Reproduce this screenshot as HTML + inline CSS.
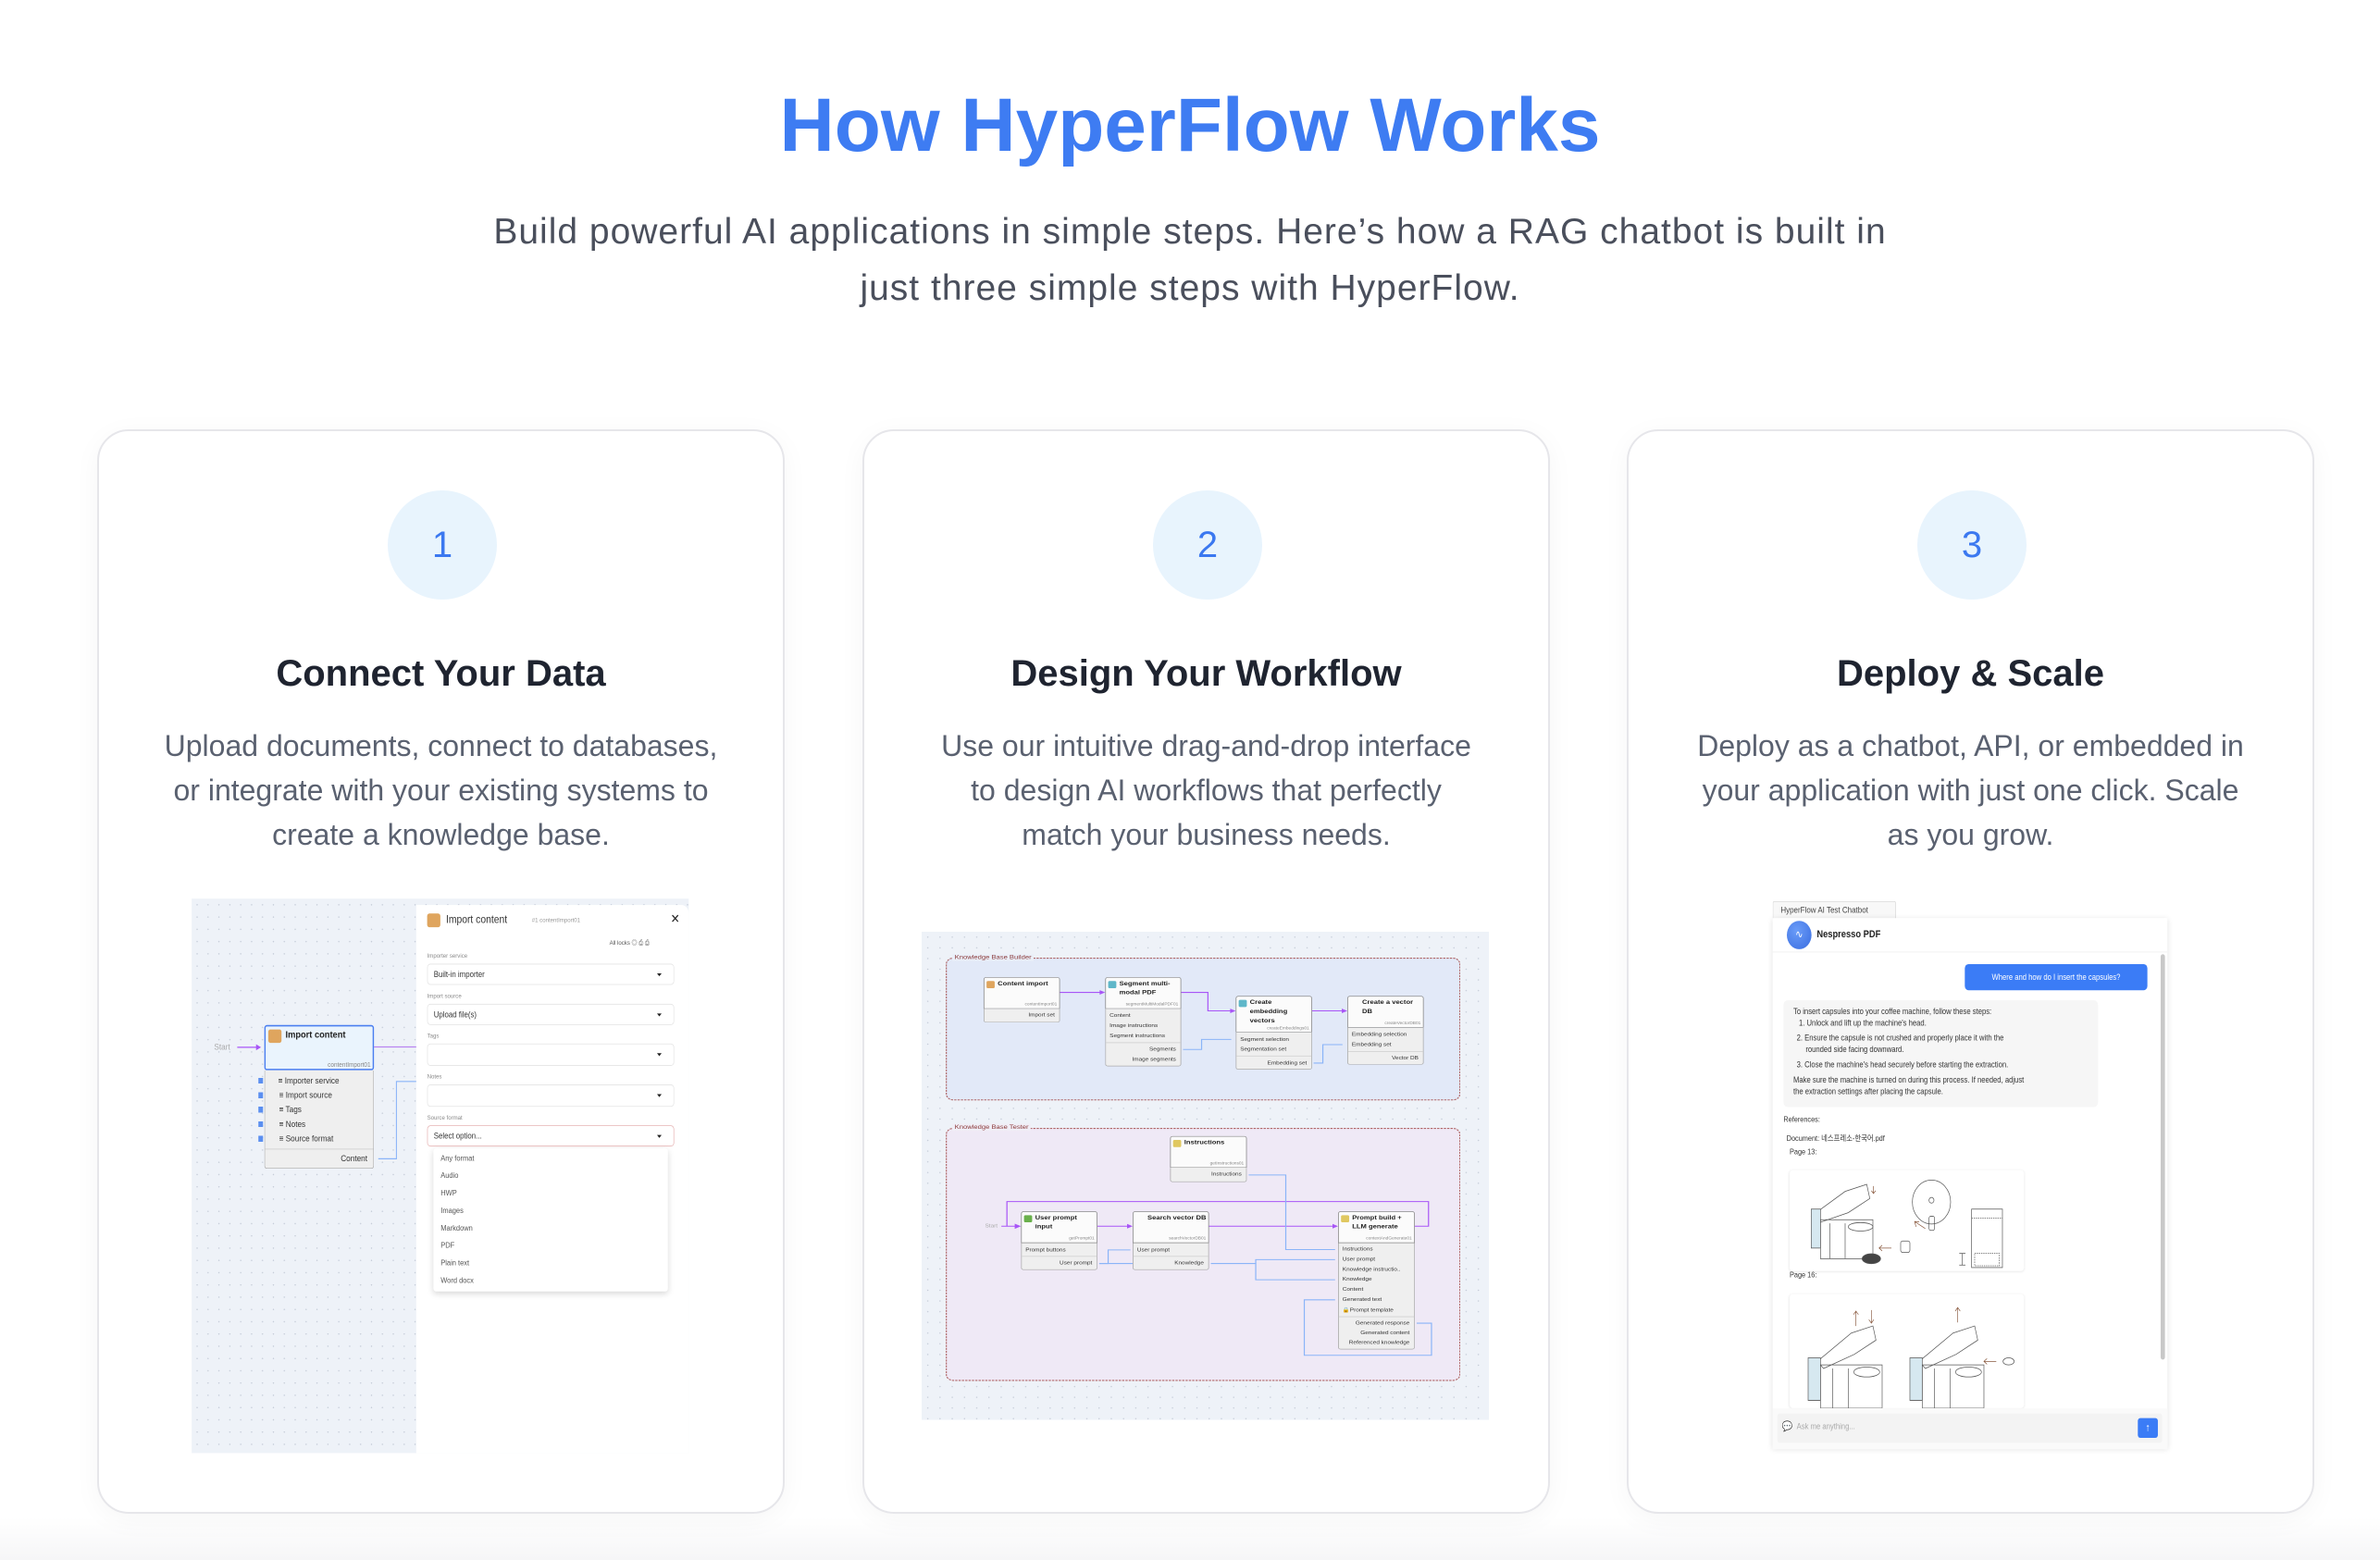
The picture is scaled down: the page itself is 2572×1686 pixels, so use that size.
<!DOCTYPE html>
<html><head><meta charset="utf-8">
<style>
*{box-sizing:border-box;margin:0;padding:0}
body{width:2572px;height:1686px;position:relative;overflow:hidden;font-family:"Liberation Sans","Noto Sans CJK KR",sans-serif;background:linear-gradient(#fff 0,#fff 1640px,#f6f6f7 1686px)}
.abs{position:absolute}
h1{position:absolute;left:0;width:2572px;top:88px;text-align:center;font-size:82px;font-weight:bold;color:#3e7cf2;line-height:96px}
.sub{position:absolute;left:0;width:2572px;text-align:center;font-size:39px;letter-spacing:1px;color:#4a4f5c;line-height:40px}
.card{position:absolute;top:464px;width:743px;height:1172px;border:2px solid #e6e6ea;border-radius:34px;background:#fff;box-shadow:0 6px 30px rgba(0,0,0,0.04)}
.circ{position:absolute;left:312px;top:64px;width:118px;height:118px;border-radius:50%;background:#e8f4fd;color:#3b78f0;font-size:40px;text-align:center;line-height:118px}
.ch{position:absolute;left:0;width:100%;top:240px;text-align:center;font-size:40px;font-weight:bold;color:#1f2430}
.cd{position:absolute;left:0;width:100%;top:316px;text-align:center;font-size:32px;line-height:48px;color:#5a6170}
.z{position:absolute;transform-origin:0 0;overflow:visible}
.dots{background-color:#eef2f8;background-image:radial-gradient(#c5ccd8 2px,transparent 2.2px);background-size:33px 33px}
.lbl{position:absolute;font-size:17px;color:#8a8a8a}
.sel{position:absolute;left:733px;width:748px;height:57px;border:2px solid #e4e4e4;border-radius:10px;font-size:22px;color:#333;padding:14px 18px;background:#fff}
.sel:after{content:"";position:absolute;right:36px;top:24px;border:7px solid transparent;border-top:8px solid #222}
.dd{position:absolute;left:40px;font-size:21px;color:#555}
.nh{position:absolute;background:#fbfbfb;border:2px solid #8a8a8a;border-radius:7px 7px 0 0}
.nb{position:absolute;background:#efefef;border:2px solid #a8a8a8;border-top:none;border-radius:0 0 7px 7px}
.nt{position:absolute;font-size:19px;color:#222;line-height:28px;font-weight:bold}
.nid{position:absolute;right:6px;font-size:12px;color:#888}
.ic{position:absolute;width:22px;height:22px;border-radius:4px}
.r{position:absolute;font-size:16px;color:#333;white-space:nowrap}
.rr{position:absolute;right:12px;font-size:16px;color:#333;white-space:nowrap}
.dv{position:absolute;left:0;right:0;height:2px;background:#ccc}
.ct{position:absolute;font-size:23px;color:#333;white-space:nowrap}
</style></head><body>

<h1>How HyperFlow Works</h1>
<div class="sub" style="top:231px">Build powerful AI applications in simple steps. Here’s how a RAG chatbot is built in</div>
<div class="sub" style="top:292px">just three simple steps with HyperFlow.</div>

<div class="card" style="left:105px"><div class="circ">1</div><div class="ch">Connect Your Data</div><div class="cd">Upload documents, connect to databases,<br>or integrate with your existing systems to<br>create a knowledge base.</div></div>
<div class="card" style="left:932px"><div class="circ">2</div><div class="ch">Design Your Workflow</div><div class="cd">Use our intuitive drag-and-drop interface<br>to design AI workflows that perfectly<br>match your business needs.</div></div>
<div class="card" style="left:1758px"><div class="circ">3</div><div class="ch">Deploy &amp; Scale</div><div class="cd">Deploy as a chatbot, API, or embedded in<br>your application with just one click. Scale<br>as you grow.</div></div>

<!-- Card 1 screenshot -->
<div class="z" style="left:200px;top:960px;width:1545px;height:1545px;transform:scale(0.3569,0.4016)">
 <div class="abs dots" style="left:20px;top:28px;width:1505px;height:1492px"></div>
 <div class="abs" style="left:700px;top:45px;width:825px;height:1475px;background:#fff;border-radius:0 22px 0 0"></div>
 <div class="abs" style="left:733px;top:68px;width:40px;height:37px;background:#dfa55e;border-radius:7px"></div>
 <div class="abs" style="left:790px;top:68px;font-size:29px;color:#333">Import content</div>
 <div class="abs" style="left:1050px;top:76px;font-size:17px;color:#999">#1 contentImport01</div>
 <div class="abs" style="left:1470px;top:62px;font-size:34px;color:#222">✕</div>
 <div class="abs" style="left:1285px;top:132px;font-size:17px;color:#555">All locks ◎ ⎙ ⎙</div>
 <div class="lbl" style="left:733px;top:172px">Importer service</div>
 <div class="sel" style="top:203px">Built-in importer</div>
 <div class="lbl" style="left:733px;top:280px">Import source</div>
 <div class="sel" style="top:311px">Upload file(s)</div>
 <div class="lbl" style="left:733px;top:387px">Tags</div>
 <div class="sel" style="top:418px;height:60px"></div>
 <div class="lbl" style="left:733px;top:497px">Notes</div>
 <div class="sel" style="top:528px;height:60px"></div>
 <div class="lbl" style="left:733px;top:607px">Source format</div>
 <div class="sel" style="top:638px;border-color:#e6b3b3">Select option...</div>
 <div class="abs" style="left:752px;top:700px;width:710px;height:385px;background:#fff;border-radius:8px;box-shadow:0 6px 18px rgba(0,0,0,0.15)">
  <div class="dd" style="left:22px;top:15px">Any format</div><div class="dd" style="left:22px;top:62px">Audio</div>
  <div class="dd" style="left:22px;top:109px">HWP</div><div class="dd" style="left:22px;top:156px">Images</div>
  <div class="dd" style="left:22px;top:203px">Markdown</div><div class="dd" style="left:22px;top:250px">PDF</div>
  <div class="dd" style="left:22px;top:297px">Plain text</div><div class="dd" style="left:22px;top:344px">Word docx</div>
 </div>
 <svg class="abs" style="left:0;top:0" width="1545" height="1545">
  <line x1="158" y1="428" x2="225" y2="428" stroke="#a855f7" stroke-width="3"/>
  <polygon points="215,420 230,428 215,436" fill="#a855f7"/>
  <line x1="572" y1="427" x2="700" y2="427" stroke="#b884f0" stroke-width="3"/>
  <path d="M585 728 H640 V520 H700" fill="none" stroke="#8ab4f8" stroke-width="3"/>
 </svg>
 <div class="abs" style="left:88px;top:414px;font-size:23px;color:#aaa">Start</div>
 <div class="abs" style="left:240px;top:368px;width:332px;height:122px;border:4px solid #4a7ef0;border-radius:8px;background:#eaf4fd">
  <div class="abs" style="left:8px;top:8px;width:40px;height:36px;background:#dfa55e;border-radius:6px"></div>
  <div class="abs" style="left:60px;top:6px;font-size:26px;color:#222;font-weight:bold">Import content</div>
  <div class="abs" style="right:6px;top:92px;font-size:18px;color:#888">contentImport01</div>
 </div>
 <div class="abs" style="left:240px;top:490px;width:332px;height:265px;background:#efefef;border:2px solid #aaa;border-top:none;border-radius:0 0 8px 8px">
  <div class="abs" style="left:40px;top:14px;font-size:23px;color:#333">≡ Importer service</div>
  <div class="abs" style="left:30px;top:53px;font-size:23px;color:#333">&nbsp; ≡ Import source</div>
  <div class="abs" style="left:30px;top:92px;font-size:23px;color:#333">&nbsp; ≡ Tags</div>
  <div class="abs" style="left:30px;top:131px;font-size:23px;color:#333">&nbsp; ≡ Notes</div>
  <div class="abs" style="left:30px;top:170px;font-size:23px;color:#333">&nbsp; ≡ Source format</div>
  <div class="dv" style="top:211px"></div>
  <div class="abs" style="right:18px;top:224px;font-size:23px;color:#333">Content</div>
 </div>
 <div class="abs" style="left:222px;top:510px;width:14px;height:180px;background:repeating-linear-gradient(#5b8ff0 0 16px,transparent 16px 39px)"></div>
</div>

<!-- Card 2 screenshot -->
<div class="z" style="left:990px;top:1000px;width:1560px;height:1540px;transform:scale(0.4007,0.3505)">
 <div class="abs dots" style="left:15px;top:20px;width:1530px;height:1505px"></div>
 <div class="abs" style="left:80px;top:100px;width:1388px;height:440px;border:3px dashed #b06868;border-radius:20px;background:#e2e9f8"></div>
 <div class="abs" style="left:98px;top:88px;font-size:19px;color:#8b3a3a;background:#eaeff8;padding:0 6px">Knowledge Base Builder</div>
 <div class="abs" style="left:80px;top:625px;width:1388px;height:780px;border:3px dashed #b06868;border-radius:20px;background:#efe9f6"></div>
 <div class="abs" style="left:98px;top:612px;font-size:19px;color:#8b3a3a;background:#f0eef6;padding:0 6px">Knowledge Base Tester</div>

 <svg class="abs" style="left:0;top:0" width="1560" height="1540">
  <g fill="none" stroke="#a855f7" stroke-width="3">
   <path d="M388 207 H505"/><path d="M715 207 H787 V264 H857"/><path d="M1068 264 H1158"/>
   <path d="M230 928 H278"/><path d="M489 928 H579"/><path d="M790 928 H1133"/>
   <path d="M1345 928 H1382 V852 H245 V928"/>
  </g>
  <g fill="#a855f7">
   <polygon points="495,200 510,207 495,214"/><polygon points="847,257 862,264 847,271"/><polygon points="1148,257 1163,264 1148,271"/>
   <polygon points="266,920 283,928 266,936"/><polygon points="569,921 584,928 569,935"/><polygon points="1123,921 1138,928 1123,935"/>
  </g>
  <g fill="none" stroke="#8ab4f8" stroke-width="3">
   <path d="M720 383 H770 V352 H850"/><path d="M1072 425 H1097 V368 H1150"/>
   <path d="M897 770 H997 V1000 H1130"/><path d="M494 1043 H518 V1001 H578"/><path d="M494 1043 H584"/>
   <path d="M795 1043 H916 V1031 H1130"/><path d="M916 1043 V1093 H1130"/>
   <path d="M1350 1227 H1390 V1326 H1047 V1155 H1130"/>
  </g>
 </svg>
 <div class="abs" style="left:186px;top:918px;font-size:16px;color:#aaa">Start</div>

 <div class="nh" style="left:182px;top:160px;width:206px;height:98px"><div class="ic" style="left:6px;top:10px;background:#dfa55e"></div><div class="nt" style="left:36px;top:4px">Content import</div><div class="nid" style="top:74px">contentImport01</div></div>
 <div class="nb" style="left:182px;top:258px;width:206px;height:42px"><div class="rr" style="top:10px">Import set</div></div>
 <div class="nh" style="left:510px;top:160px;width:205px;height:98px"><div class="ic" style="left:6px;top:10px;background:#5fb7c9"></div><div class="nt" style="left:36px;top:4px">Segment multi-<br>modal PDF</div><div class="nid" style="top:74px">segmentMultiModalPDF01</div></div>
 <div class="nb" style="left:510px;top:258px;width:205px;height:177px"><div class="r" style="left:10px;top:12px">Content</div><div class="r" style="left:10px;top:43px">Image instructions</div><div class="r" style="left:10px;top:74px">Segment instructions</div><div class="dv" style="top:103px"></div><div class="rr" style="top:116px">Segments</div><div class="rr" style="top:147px">Image segments</div></div>
 <div class="nh" style="left:862px;top:218px;width:206px;height:112px"><div class="ic" style="left:6px;top:10px;background:#5fb7c9"></div><div class="nt" style="left:36px;top:4px">Create<br>embedding<br>vectors</div><div class="nid" style="top:90px">createEmbeddings01</div></div>
 <div class="nb" style="left:862px;top:330px;width:206px;height:115px"><div class="r" style="left:10px;top:13px">Segment selection</div><div class="r" style="left:10px;top:44px">Segmentation set</div><div class="dv" style="top:72px"></div><div class="rr" style="top:86px">Embedding set</div></div>
 <div class="nh" style="left:1163px;top:218px;width:206px;height:98px"><div class="nt" style="left:38px;top:4px">Create a vector<br>DB</div><div class="nid" style="top:74px">createVectorDB01</div></div>
 <div class="nb" style="left:1163px;top:316px;width:206px;height:114px"><div class="r" style="left:10px;top:12px">Embedding selection</div><div class="r" style="left:10px;top:43px">Embedding set</div><div class="dv" style="top:72px"></div><div class="rr" style="top:85px">Vector DB</div></div>
 <div class="nh" style="left:685px;top:650px;width:207px;height:98px"><div class="ic" style="left:6px;top:10px;background:#e0c860"></div><div class="nt" style="left:36px;top:4px">Instructions</div><div class="nid" style="top:74px">getInstructions01</div></div>
 <div class="nb" style="left:685px;top:748px;width:207px;height:44px"><div class="rr" style="top:11px">Instructions</div></div>
 <div class="nh" style="left:283px;top:882px;width:206px;height:98px"><div class="ic" style="left:6px;top:10px;background:#6ab04c"></div><div class="nt" style="left:36px;top:4px">User prompt<br>input</div><div class="nid" style="top:74px">getPrompt01</div></div>
 <div class="nb" style="left:283px;top:980px;width:206px;height:83px"><div class="r" style="left:10px;top:12px">Prompt buttons</div><div class="dv" style="top:40px"></div><div class="rr" style="top:53px">User prompt</div></div>
 <div class="nh" style="left:584px;top:882px;width:206px;height:98px"><div class="nt" style="left:38px;top:4px">Search vector DB</div><div class="nid" style="top:74px">searchVectorDB01</div></div>
 <div class="nb" style="left:584px;top:980px;width:206px;height:83px"><div class="r" style="left:10px;top:12px">User prompt</div><div class="dv" style="top:40px"></div><div class="rr" style="top:53px">Knowledge</div></div>
 <div class="nh" style="left:1138px;top:882px;width:207px;height:98px"><div class="ic" style="left:6px;top:10px;background:#e0c860"></div><div class="nt" style="left:36px;top:4px">Prompt build +<br>LLM generate</div><div class="nid" style="top:74px">contextAndGenerate01</div></div>
 <div class="nb" style="left:1138px;top:980px;width:207px;height:328px">
  <div class="r" style="left:10px;top:10px">Instructions</div><div class="r" style="left:10px;top:41px">User prompt</div><div class="r" style="left:10px;top:72px">Knowledge instructio..</div><div class="r" style="left:10px;top:103px">Knowledge</div><div class="r" style="left:10px;top:134px">Content</div><div class="r" style="left:10px;top:165px">Generated text</div><div class="r" style="left:10px;top:196px">🔒Prompt template</div>
  <div class="dv" style="top:226px"></div>
  <div class="rr" style="top:238px">Generated response</div><div class="rr" style="top:268px">Generated content</div><div class="rr" style="top:298px">Referenced knowledge</div>
 </div>
</div>

<!-- Card 3 screenshot -->
<div class="z" style="left:1900px;top:970px;width:1380px;height:1568px;transform:scale(0.3333,0.3827)">
 <div class="abs" style="left:47px;top:10px;width:400px;height:50px;border:2px solid #d6d6d6;border-bottom:none;border-radius:6px 6px 0 0;background:#f8f8f8;font-size:24px;color:#444;padding:10px 24px">HyperFlow AI Test Chatbot</div>
 <div class="abs" style="left:47px;top:58px;width:1280px;height:1500px;background:#fff;box-shadow:0 2px 16px rgba(0,0,0,0.12)">
  <div class="abs" style="left:0;top:0;width:1280px;height:97px;border-bottom:2px solid #eee"></div>
  <div class="abs" style="left:46px;top:8px;width:80px;height:80px;border-radius:50%;background:radial-gradient(circle at 40% 35%,#6a9cf8,#3a6de0);color:#fff;font-size:30px;text-align:center;line-height:78px">∿</div>
  <div class="abs" style="left:143px;top:30px;font-size:28px;font-weight:bold;color:#222">Nespresso PDF</div>
  <div class="abs" style="left:1258px;top:102px;width:14px;height:1145px;background:#c8c8c8;border-radius:7px"></div>
  <div class="abs" style="left:623px;top:130px;width:592px;height:74px;background:#3b7cf6;border-radius:12px;color:#fff;font-size:23px;text-align:center;line-height:74px">Where and how do I insert the capsules?</div>
  <div class="abs" style="left:35px;top:232px;width:1020px;height:302px;background:#f6f6f6;border-radius:14px"></div>
  <div class="ct" style="left:67px;top:250px">To insert capsules into your coffee machine, follow these steps:</div>
  <div class="ct" style="left:85px;top:283px">1. Unlock and lift up the machine's head.</div>
  <div class="ct" style="left:78px;top:325px">2. Ensure the capsule is not crushed and properly place it with the</div>
  <div class="ct" style="left:107px;top:358px">rounded side facing downward.</div>
  <div class="ct" style="left:78px;top:400px">3. Close the machine's head securely before starting the extraction.</div>
  <div class="ct" style="left:67px;top:443px">Make sure the machine is turned on during this process. If needed, adjust</div>
  <div class="ct" style="left:67px;top:476px">the extraction settings after placing the capsule.</div>
  <div class="ct" style="left:35px;top:556px;font-size:22px">References:</div>
  <div class="ct" style="left:45px;top:604px;font-size:22px">Document: 네스프레소-한국어.pdf</div>
  <div class="ct" style="left:55px;top:647px;font-size:22px">Page 13:</div>
  <div class="abs" style="left:55px;top:712px;width:760px;height:285px;background:#fff;border-radius:10px;box-shadow:0 1px 8px rgba(0,0,0,0.1)">
   <svg width="760" height="285" fill="none" stroke="#555" stroke-width="2">
    <path d="M70 130 L180 60 L250 40 L260 80 L190 120 L90 150 Z"/><path d="M70 110 H100 V220 H70 Z" fill="#d6e8f0"/>
    <path d="M100 140 H270 V250 H100 Z"/><path d="M130 150 V250 M180 150 V250"/><ellipse cx="230" cy="160" rx="40" ry="12"/>
    <ellipse cx="265" cy="250" rx="30" ry="14" fill="#444"/><path d="M330 220 H290 M300 212 L290 220 L300 228" stroke="#8a5a40"/>
    <rect x="360" y="200" width="30" height="32" rx="6"/><path d="M272 45 V65 M265 58 L272 66 L279 58" stroke="#8a5a40"/>
    <circle cx="460" cy="90" r="62"/><circle cx="460" cy="85" r="8"/><rect x="452" y="130" width="18" height="40" rx="6"/>
    <path d="M440 165 L405 145 M405 145 L410 160 M405 145 L420 146" stroke="#8a5a40"/>
    <rect x="590" y="110" width="100" height="165"/><path d="M590 135 H690 M600 235 H680 V270 H600 Z" stroke-dasharray="4 3"/>
    <path d="M560 235 V268 M550 235 H570 M550 268 H570"/>
   </svg>
  </div>
  <div class="ct" style="left:55px;top:995px;font-size:22px">Page 16:</div>
  <div class="abs" style="left:55px;top:1062px;width:760px;height:322px;background:#fff;border-radius:10px;box-shadow:0 1px 8px rgba(0,0,0,0.1)">
   <svg width="760" height="322" fill="none" stroke="#555" stroke-width="2">
    <path d="M90 190 L200 110 L270 90 L280 130 L210 170 L110 210 Z"/><path d="M60 180 H100 V300 H60 Z" fill="#d6e8f0"/>
    <path d="M100 200 H300 V322 H100 Z"/><path d="M140 210 V322 M190 210 V322"/><ellipse cx="250" cy="220" rx="42" ry="14"/>
    <path d="M215 90 V50 M207 58 L215 48 L223 58 M265 45 V80 M257 72 L265 82 L273 72" stroke="#8a5a40"/>
    <path d="M420 190 L530 110 L600 90 L610 130 L540 170 L440 210 Z"/><path d="M390 180 H430 V300 H390 Z" fill="#d6e8f0"/>
    <path d="M430 200 H630 V322 H430 Z"/><path d="M470 210 V322 M520 210 V322"/><ellipse cx="580" cy="220" rx="42" ry="14"/>
    <path d="M545 80 V40 M537 48 L545 38 L553 48" stroke="#8a5a40"/><path d="M670 190 H630 M640 182 L630 190 L640 198" stroke="#8a5a40"/>
    <ellipse cx="710" cy="190" rx="18" ry="10"/>
   </svg>
  </div>
  <div class="abs" style="left:0;top:1385px;width:1280px;height:115px;background:#fafafa"></div>
  <div class="abs" style="left:15px;top:1399px;width:1248px;height:83px;background:#f3f3f3;border-radius:8px"></div>
  <div class="abs" style="left:30px;top:1418px;font-size:28px;color:#6aa6b8">💬</div>
  <div class="abs" style="left:78px;top:1422px;font-size:23px;color:#aaa">Ask me anything...</div>
  <div class="abs" style="left:1184px;top:1412px;width:65px;height:56px;background:#3b7cf6;border-radius:8px;color:#fff;font-size:30px;text-align:center;line-height:56px">↑</div>
 </div>
</div>

</body></html>
